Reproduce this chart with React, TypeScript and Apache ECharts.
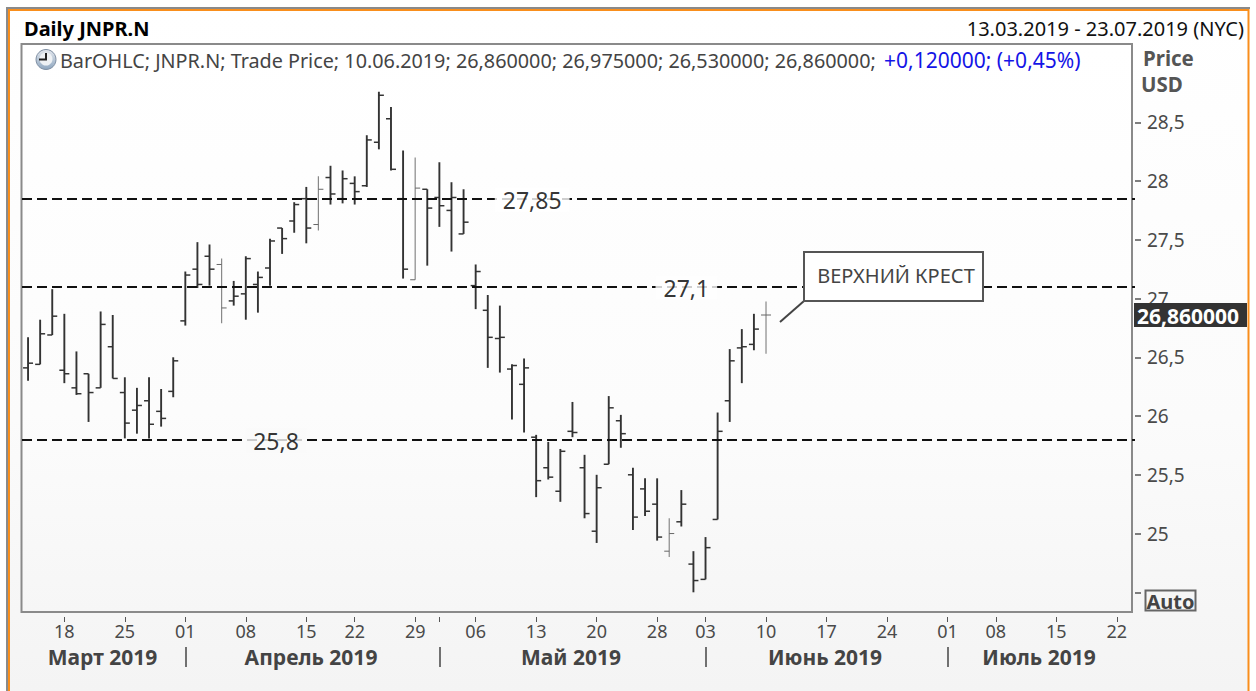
import React, { useEffect, useRef } from "react";
import * as echarts from "echarts";

const marchDays = ["13","14","15","18","19","20","21","22","25","26","27","28","29"];
const aprilDays = ["01","02","03","04","05","08","09","10","11","12","15","16","17","18","22","23","24","25","26","29","30"];
const mayDays = ["01","02","03","06","07","08","09","10","13","14","15","16","17","20","21","22","23","24","28","29","30","31"];
const juneDays = ["03","04","05","06","07","10","11","12","13","14","17","18","19","20","21","24","25","26","27","28"];
const julyDays = ["01","02","03","05","08","09","10","11","12","15","16","17","18","19","22","23"];
const categories = [
  ...marchDays.map((d) => `${d}.03`),
  ...aprilDays.map((d) => `${d}.04`),
  ...mayDays.map((d) => `${d}.05`),
  ...juneDays.map((d) => `${d}.06`),
  ...julyDays.map((d) => `${d}.07`),
];

const opens = [26.41,26.44,26.69,26.39,26.24,26.36,26.24,26.59,26.20,26.05,26.13,26.04,26.21,26.81,27.25,27.36,27.29,26.98,27.04,27.12,27.26,27.60,27.66,27.85,27.63,28.03,27.85,27.98,27.96,28.33,28.53,27.85,27.16,27.93,27.86,27.75,27.55,27.11,26.90,26.66,26.40,26.27,25.82,25.56,25.36,25.87,25.56,25.02,25.59,25.96,25.50,25.38,25.25,24.85,25.10,24.74,24.61,25.12,26.13,26.58,26.61,26.86];
const highs = [26.67,26.82,27.08,26.87,26.55,26.36,26.89,26.86,26.33,26.24,26.33,26.23,26.50,27.23,27.48,27.46,27.34,27.15,27.36,27.23,27.51,27.60,27.82,27.95,28.04,28.13,28.09,28.04,28.39,28.76,28.63,28.26,28.20,27.93,28.16,27.99,27.93,27.29,27.03,26.94,26.44,26.49,25.84,25.78,25.72,26.12,25.67,25.50,26.17,26.01,25.56,25.47,25.47,25.13,25.37,24.85,24.97,26.03,26.57,26.74,26.87,26.975];
const lows = [26.30,26.44,26.69,26.28,26.18,25.95,26.24,26.32,25.81,25.85,25.81,25.91,26.16,26.77,27.09,27.11,26.79,26.94,26.82,26.88,27.11,27.38,27.56,27.47,27.58,27.80,27.81,27.80,27.95,28.27,28.09,27.17,27.16,27.28,27.61,27.40,27.55,26.91,26.41,26.37,25.97,25.86,25.31,25.46,25.27,25.82,25.13,24.92,25.59,25.73,25.03,25.15,24.94,24.80,25.06,24.50,24.61,25.12,25.95,26.28,26.56,26.53];
const closes = [26.45,26.70,26.85,26.36,26.19,26.20,26.78,26.32,25.94,26.09,25.93,25.98,26.47,27.20,27.12,27.25,26.92,27.02,27.34,27.18,27.49,27.51,27.80,27.60,27.93,27.89,28.02,27.91,28.35,28.73,28.10,27.25,27.94,27.77,27.79,27.86,27.65,27.23,26.67,26.67,26.43,26.41,25.45,25.48,25.70,25.86,25.17,25.39,26.07,25.85,25.14,25.19,24.97,25.00,25.25,24.60,24.88,25.87,26.47,26.59,26.74,26.86];

// Bars that are drawn as a thin, light stroke in the reference
const lightBars = [16, 24, 32, 53, 61];

const tickedDays = ["18.03","25.03","01.04","08.04","15.04","22.04","29.04","01.05","06.05","13.05","20.05","28.05","03.06","10.06","17.06","24.06","01.07","08.07","15.07","22.07"];
const unlabelledDays = ["01.05"];
const monthNames = ["Март 2019", "Апрель 2019", "Май 2019", "Июнь 2019", "Июль 2019"];
const monthCentres = [102.5, 311, 571, 825, 1039];
const monthStarts = ["01.04", "01.05", "03.06", "01.07"];

const priceTicks = [24.5, 25, 25.5, 26, 26.5, 27, 27.5, 28, 28.5];
const levels = [27.85, 27.1, 25.8];
const levelAnchors = ["13.05", "30.05", "10.04"];
const levelNudges = [-4, 5, 6];
const levelLabelFills = ["#ffffff", "#fefefe", "#fafafa"];

const FONT = "'Noto Sans', sans-serif";
const comma = (v: number) => String(v).replace(".", ",");

export default function App() {
  const ref = useRef<HTMLDivElement>(null);
  useEffect(() => {
    document.body.style.margin = "0";
    const chart = echarts.init(ref.current!, undefined, { renderer: "svg" });
    const ohlc = opens.map((o, i) => [i, o, highs[i], lows[i], closes[i]]);
    const option: any = {
      animation: false,
      tooltip: { show: false },
      grid: { left: 22, right: 121, top: 63.55, height: 528.75, containLabel: false },
      xAxis: [
        {
          type: "category", data: categories, boundaryGap: true, position: "bottom", offset: 24.7,
          axisLine: { show: false },
          axisTick: { show: true, alignWithLabel: true, length: 5, lineStyle: { color: "#555", width: 1 },
            interval: (_: number, v: string) => tickedDays.includes(v) },
          axisLabel: { margin: 5, fontFamily: FONT, fontSize: 18, color: "#4a4a4a", hideOverlap: false,
            interval: (_: number, v: string) => tickedDays.includes(v) && !unlabelledDays.includes(v),
            formatter: (v: string) => v.slice(0, 2) },
        },
        {
          type: "category", data: categories, boundaryGap: true, position: "bottom", offset: 54.7,
          axisLine: { show: false },
          axisTick: { show: true, alignWithLabel: true, length: 20, lineStyle: { color: "#444", width: 1.5 },
            interval: (_: number, v: string) => monthStarts.includes(v) },
          axisLabel: { show: false },
        },
      ],
      yAxis: {
        type: "value", position: "right", min: 24.5, max: 29, interval: 0.5, scale: true,
        splitLine: { show: false }, axisLine: { show: false },
        axisTick: { show: true, length: 6, lineStyle: { color: "#555", width: 1.5 }, customValues: priceTicks },
        axisLabel: { margin: 12, fontFamily: FONT, fontSize: 19, color: "#4a4a4a", customValues: priceTicks,
          formatter: (v: number) => (v === 24.5 ? "" : comma(v)) },
      },
      graphic: [
        { type: "rect", z: -30, shape: { x: 8, y: 9, width: 1241, height: 682 },
          style: { fill: new echarts.graphic.LinearGradient(0, 0, 0, 1, [{ offset: 0, color: "#ffffff" }, { offset: 0.6, color: "#fbfbfb" }, { offset: 1, color: "#f4f4f4" }]) } },
        { type: "rect", z: -20, shape: { x: 21.5, y: 44, width: 1110.5, height: 568 },
          style: { fill: new echarts.graphic.LinearGradient(0, 0, 0, 1, [{ offset: 0, color: "#ffffff" }, { offset: 0.65, color: "#fcfcfc" }, { offset: 1, color: "#f6f6f6" }]), stroke: "#8a8a8a", lineWidth: 2 } },
        { type: "polyline", z: -25, shape: { points: [[7, 691], [7, 8], [1250, 8]] }, style: { stroke: "#8a8a8a", lineWidth: 2, fill: "none" } },
        { type: "polyline", z: -25, shape: { points: [[9, 691], [9, 10], [1248.5, 10], [1248.5, 691]] }, style: { stroke: "#f98e1c", lineWidth: 2, fill: "none" } },
        { type: "text", z: 50, x: 24, y: 28, style: { text: "Daily JNPR.N", font: `bold 20px ${FONT}`, fill: "#000", textVerticalAlign: "middle" } },
        { type: "text", z: 50, x: 1244, y: 28, style: { text: "13.03.2019 - 23.07.2019 (NYC)", font: `20px ${FONT}`, fill: "#111", textAlign: "right", textVerticalAlign: "middle" } },
        { type: "circle", z: 50, shape: { cx: 46, cy: 59.5, r: 10 },
          style: { fill: new echarts.graphic.LinearGradient(0, 0, 0, 1, [{ offset: 0, color: "#e4e8ee" }, { offset: 1, color: "#8fa7c0" }]), stroke: "#7f8fa3", lineWidth: 1 } },
        { type: "circle", z: 50, shape: { cx: 46, cy: 59, r: 6.5 }, style: { fill: "#eef1f4" } },
        { type: "polyline", z: 51, shape: { points: [[46, 53], [46, 59.5], [39, 59.5]] }, style: { stroke: "#222", lineWidth: 2, fill: "none" } },
        { type: "text", z: 50, x: 60, y: 60, style: { text: "BarOHLC; JNPR.N; Trade Price; 10.06.2019; 26,860000; 26,975000; 26,530000; 26,860000;", font: `19.8px ${FONT}`, fill: "#444", textVerticalAlign: "middle" } },
        { type: "text", z: 50, x: 884, y: 60, style: { text: "+0,120000; (+0,45%)", font: `21px ${FONT}`, fill: "#1414e6", textVerticalAlign: "middle" } },
        { type: "text", z: 50, x: 1143, y: 58, style: { text: "Price", font: `bold 20.5px ${FONT}`, fill: "#555", textVerticalAlign: "middle" } },
        { type: "text", z: 50, x: 1141, y: 84, style: { text: "USD", font: `bold 20.5px ${FONT}`, fill: "#555", textVerticalAlign: "middle" } },
        { type: "rect", z: 50, shape: { x: 1134, y: 303, width: 113, height: 24 }, style: { fill: "#333" } },
        { type: "text", z: 51, x: 1137, y: 315.5, style: { text: "26,860000", font: `bold 21px ${FONT}`, fill: "#fff", textVerticalAlign: "middle" } },
        { type: "rect", z: 50, shape: { x: 1145.5, y: 590.5, width: 50, height: 20 }, style: { fill: "#f6f6f6", stroke: "#666", lineWidth: 2 } },
        { type: "text", z: 51, x: 1170.5, y: 601, style: { text: "Auto", font: `bold 20px ${FONT}`, fill: "#444", textAlign: "center", textVerticalAlign: "middle" } },
        { type: "line", z: 60, shape: { x1: 804, y1: 301, x2: 780, y2: 322 }, style: { stroke: "#444", lineWidth: 2 } },
        { type: "rect", z: 60, shape: { x: 804, y: 252, width: 179, height: 49 }, style: { fill: "#fff", stroke: "#555", lineWidth: 2 } },
        { type: "text", z: 61, x: 896, y: 275.5, style: { text: "ВЕРХНИЙ КРЕСТ", font: `20px ${FONT}`, fill: "#444", textAlign: "center", textVerticalAlign: "middle" } },
        ...monthNames.map((name, i) => ({
          type: "text", z: 50, x: monthCentres[i], y: 657,
          style: { text: name, font: `bold 21px ${FONT}`, fill: "#444", textAlign: "center", textVerticalAlign: "middle" },
        })),
      ],
      series: [
        {
          name: "JNPR.N", type: "custom", xAxisIndex: 0, z: 3, clip: false, data: ohlc,
          encode: { x: 0, y: [1, 2, 3, 4] },
          renderItem: (_: any, api: any) => {
            const i = api.value(0);
            const [x, yOpen] = api.coord([i, api.value(1)]);
            const yHigh = api.coord([i, api.value(2)])[1];
            const yLow = api.coord([i, api.value(3)])[1];
            const yClose = api.coord([i, api.value(4)])[1];
            const light = lightBars.includes(i);
            const style = { stroke: light ? "#888" : "#333", lineWidth: light ? 1.2 : 1.9, fill: "none" };
            const tick = { stroke: light ? "#666" : "#333", lineWidth: light ? 1 : 1.5, fill: "none" };
            return {
              type: "group",
              children: [
                { type: "line", shape: { x1: x, y1: yHigh, x2: x, y2: yLow }, style },
                { type: "line", shape: { x1: x - 5, y1: yOpen, x2: x, y2: yOpen }, style: tick },
                { type: "line", shape: { x1: x, y1: yClose, x2: x + 5, y2: yClose }, style: tick },
              ],
            };
          },
        },
        {
          name: "levels", type: "scatter", xAxisIndex: 0, z: 5, symbolSize: 0, silent: true,
          data: levels.map((v, i) => ({
            value: [levelAnchors[i], v],
            label: { show: true, position: "inside", offset: [levelNudges[i], 1], formatter: comma(v), fontFamily: FONT, fontSize: 23, color: "#000", backgroundColor: levelLabelFills[i], padding: [0, 8], lineHeight: 24 },
          })),
          markLine: {
            silent: true, symbol: "none", z: 4, label: { show: false },
            lineStyle: { color: "#111", type: [10, 5], width: 2 },
            data: levels.map((v) => ({ yAxis: v })),
          },
        },
      ],
    };
    chart.setOption(option);
    return () => chart.dispose();
  }, []);
  return <div ref={ref} style={{ position: "fixed", left: 0, top: 0, width: 1256, height: 691 }} />;
}
